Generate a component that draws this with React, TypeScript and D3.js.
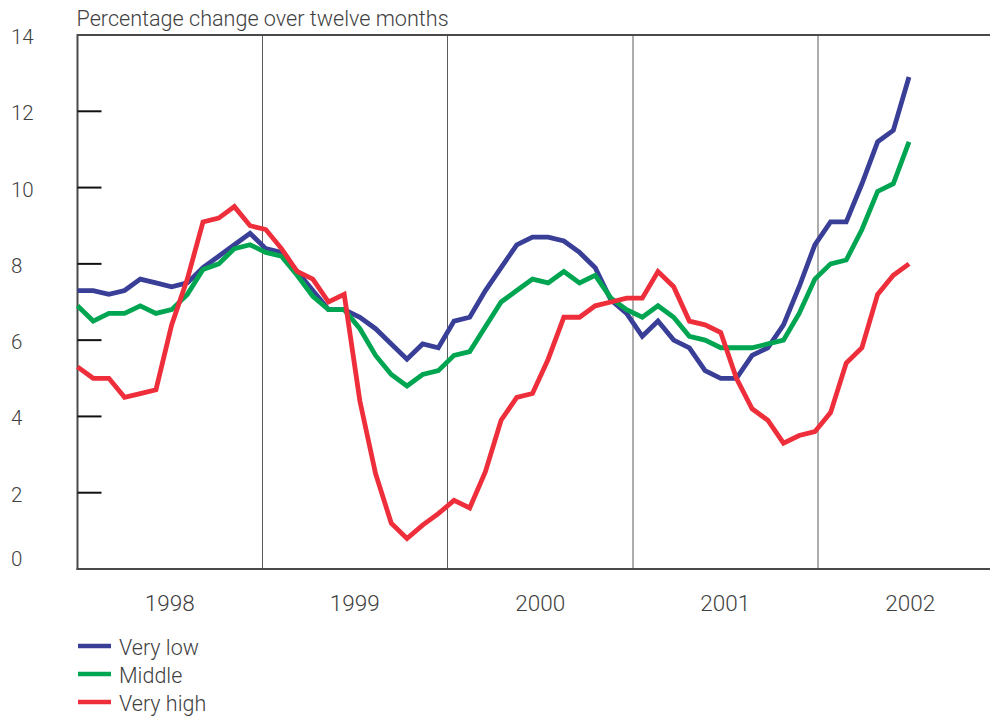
import { useRef, useEffect } from 'react';
import * as d3 from 'd3';

// Twelve-month percentage change, monthly, Jan 1998 - Jun 2002
const veryLow = [
  7.3, 7.3, 7.2, 7.3, 7.6, 7.5, 7.4, 7.5, 7.9, 8.2, 8.5, 8.8,
  8.4, 8.3, 7.8, 7.3, 6.8, 6.8, 6.6, 6.3, 5.9, 5.5, 5.9, 5.8,
  6.5, 6.6, 7.3, 7.9, 8.5, 8.7, 8.7, 8.6, 8.3, 7.9, 7.05, 6.7,
  6.1, 6.5, 6.0, 5.8, 5.2, 5.0, 5.0, 5.6, 5.8, 6.4, 7.4, 8.5,
  9.1, 9.1, 10.1, 11.2, 11.5, 12.9
];
const middle = [
  6.9, 6.5, 6.7, 6.7, 6.9, 6.7, 6.8, 7.2, 7.85, 8.0, 8.4, 8.5,
  8.3, 8.2, 7.7, 7.15, 6.8, 6.8, 6.3, 5.6, 5.1, 4.8, 5.1, 5.2,
  5.6, 5.7, 6.35, 7.0, 7.3, 7.6, 7.5, 7.8, 7.5, 7.7, 7.1, 6.8,
  6.6, 6.9, 6.6, 6.1, 6.0, 5.8, 5.8, 5.8, 5.9, 6.0, 6.7, 7.6,
  8.0, 8.1, 8.9, 9.9, 10.1, 11.2
];
const veryHigh = [
  5.3, 5.0, 5.0, 4.5, 4.6, 4.7, 6.4, 7.6, 9.1, 9.2, 9.5, 9.0,
  8.9, 8.4, 7.8, 7.6, 7.0, 7.2, 4.4, 2.5, 1.2, 0.8, 1.15, 1.45,
  1.8, 1.6, 2.55, 3.9, 4.5, 4.6, 5.5, 6.6, 6.6, 6.9, 7.0, 7.1,
  7.1, 7.8, 7.4, 6.5, 6.4, 6.2, 5.0, 4.2, 3.9, 3.3, 3.5, 3.6,
  4.1, 5.4, 5.8, 7.2, 7.7, 8.0
];

const years = [1998, 1999, 2000, 2001, 2002];
const yTicks = [0, 2, 4, 6, 8, 10, 12, 14];
const seriesNames = ['Very low', 'Middle', 'Very high'];
const seriesColors = ['#393e97', '#00a551', '#ee2e3a'];
const title = 'Percentage change over twelve months';

const FONT = 'Roboto, "Liberation Sans", Arial, sans-serif';
const WEIGHT = 300;
const TEXT = '#3f3f3f';

export default function App() {
  const svgRef = useRef<SVGSVGElement | null>(null);

  useEffect(() => {
    const width = 990;
    const left = 77.5;
    const top = 35;
    const bottom = 569;

    const svg = d3.select(svgRef.current);
    svg.selectAll('*').remove();

    const months = d3.timeMonth.range(new Date(1998, 0, 1), new Date(1998, 0 + veryLow.length, 1));

    // frame / calendar scale
    const x = d3.scaleTime()
      .domain([new Date(years[0], 0, 1), new Date(years[years.length - 1] + 1, 0, 1)])
      .range([left, 1003]);

    // observation scale
    const xm = d3.scalePoint<Date>()
      .domain(months)
      .range([left, 909]);

    const y = d3.scaleLinear().domain([0, 14]).range([bottom, top]);

    // title
    svg.append('text')
      .attr('x', 76.5)
      .attr('y', 26)
      .attr('font-family', FONT)
      .attr('font-weight', WEIGHT)
      .attr('font-size', 21.6)
      .attr('fill', TEXT)
      .text(title);

    // year separators
    svg.append('g')
      .selectAll('line')
      .data(years.slice(1))
      .join('line')
      .attr('x1', d => x(new Date(d, 0, 1)))
      .attr('x2', d => x(new Date(d, 0, 1)))
      .attr('y1', top)
      .attr('y2', bottom)
      .attr('stroke', '#5a5a5a')
      .attr('stroke-width', 1);

    // top border, left and bottom axis
    svg.append('line')
      .attr('x1', left).attr('x2', width)
      .attr('y1', top).attr('y2', top)
      .attr('stroke', '#4a4a4a').attr('stroke-width', 2);
    svg.append('line')
      .attr('x1', left).attr('x2', left)
      .attr('y1', top - 1).attr('y2', bottom + 1)
      .attr('stroke', '#4a4a4a').attr('stroke-width', 2);
    svg.append('line')
      .attr('x1', left - 1).attr('x2', width)
      .attr('y1', bottom).attr('y2', bottom)
      .attr('stroke', '#4a4a4a').attr('stroke-width', 2);

    // y ticks (inside) + labels
    svg.append('g')
      .selectAll('line')
      .data(yTicks.filter(d => d > 0 && d < 14))
      .join('line')
      .attr('x1', left)
      .attr('x2', left + 24)
      .attr('y1', d => y(d))
      .attr('y2', d => y(d))
      .attr('stroke', '#111')
      .attr('stroke-width', 2);

    svg.append('g')
      .selectAll('text')
      .data(yTicks)
      .join('text')
      .attr('x', 11)
      .attr('y', d => Math.min(y(d) + 9, y(0) - 3))
      .attr('font-family', FONT)
      .attr('font-weight', WEIGHT)
      .attr('font-size', 20.5)
      .attr('fill', TEXT)
      .text(d => d);

    // year labels
    svg.append('g')
      .selectAll('text')
      .data(years)
      .join('text')
      .attr('x', d => x(new Date(d, 6, 2)))
      .attr('y', 611)
      .attr('text-anchor', 'middle')
      .attr('font-family', FONT)
      .attr('font-weight', WEIGHT)
      .attr('font-size', 22.5)
      .attr('fill', TEXT)
      .text(d => d);

    // series
    const line = d3.line<number>()
      .x((d, i) => xm(months[i]) as number)
      .y(d => y(d));

    [veryLow, middle, veryHigh].forEach(function (values, k) {
      svg.append('path')
        .datum(values)
        .attr('fill', 'none')
        .attr('stroke', seriesColors[k])
        .attr('stroke-width', 4.8)
        .attr('stroke-linejoin', 'miter')
        .attr('d', line);
    });

    // legend
    const legend = svg.append('g')
      .selectAll('g')
      .data(seriesNames)
      .join('g')
      .attr('transform', (d, i) => 'translate(' + 78 + ',' + (646 + i * 28) + ')');

    legend.append('line')
      .attr('x1', 0).attr('x2', 33)
      .attr('y1', 0).attr('y2', 0)
      .attr('stroke', (d, i) => seriesColors[i])
      .attr('stroke-width', 4.5);

    legend.append('text')
      .attr('x', 41)
      .attr('y', 9)
      .attr('font-family', FONT)
      .attr('font-weight', WEIGHT)
      .attr('font-size', 21.5)
      .attr('fill', TEXT)
      .text(d => d);
  }, []);

  return (
    <svg
      ref={svgRef}
      width={990}
      height={717}
      style={{ position: 'fixed', left: 0, top: 0, background: '#fff' }}
    />
  );
}
